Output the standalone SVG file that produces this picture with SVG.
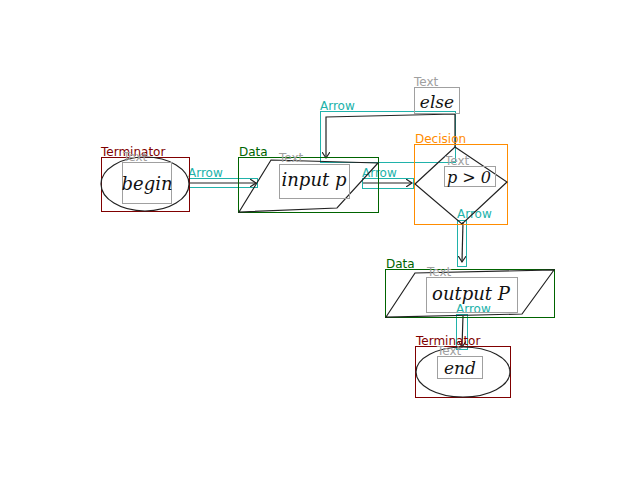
<svg xmlns="http://www.w3.org/2000/svg" width="640" height="480" viewBox="0 0 640 480">
<style>
.lbl{font-family:"DejaVu Sans",sans-serif;font-size:12px}
.term{fill:none;stroke:#800000;stroke-width:1}
.termL{fill:#800000}
.data{fill:none;stroke:#006400;stroke-width:1}
.dataL{fill:#006400}
.dec{fill:none;stroke:#ff8c00;stroke-width:1}
.decL{fill:#ff8c00}
.arr{fill:none;stroke:#20b2aa;stroke-width:1}
.arrL{fill:#20b2aa}
.tx{fill:none;stroke:#a0a0a0;stroke-width:1}
.txL{fill:#a0a0a0}
.ink{fill:none;stroke:#222;stroke-width:1.2}
.hw{font-family:"DejaVu Serif",serif;font-style:italic;fill:#111;text-anchor:middle}
</style>
<defs>
<marker id="ah" markerWidth="8" markerHeight="8" refX="6" refY="4" orient="auto" markerUnits="userSpaceOnUse">
<path d="M0,0 L6,4 L0,8" fill="none" stroke="#222" stroke-width="1.2"/>
</marker>
</defs>
<rect width="640" height="480" fill="#fff"/>
<g id="connectors">
<g id="arrow1">
<rect class="arr" x="189.5" y="178.5" width="68" height="9"/>
<text class="lbl arrL" x="188" y="177">Arrow</text>
<path class="ink" d="M190,183 L256,183" marker-end="url(#ah)"/>
</g>
<g id="arrow2">
<rect class="arr" x="320.5" y="111.5" width="135" height="51"/>
<text class="lbl arrL" x="320" y="110">Arrow</text>
<path class="ink" d="M455,148 L455,114 L326,117 L326,158" marker-end="url(#ah)"/>
</g>
<g id="arrow3">
<rect class="arr" x="362.5" y="178.5" width="51" height="10"/>
<text class="lbl arrL" x="362" y="177">Arrow</text>
<path class="ink" d="M363,183 L412,183" marker-end="url(#ah)"/>
</g>
<g id="arrow4">
<rect class="arr" x="457.5" y="220.5" width="9" height="46"/>
<text class="lbl arrL" x="457" y="218">Arrow</text>
<path class="ink" d="M463,222 L462,262" marker-end="url(#ah)"/>
</g>
<g id="arrow5">
<rect class="arr" x="456.5" y="314.5" width="11" height="35"/>
<text class="lbl arrL" x="456" y="313">Arrow</text>
<path class="ink" d="M463,316 L462,347" marker-end="url(#ah)"/>
</g>
</g>
<g id="terminator1">
<rect class="term" x="101.5" y="157.5" width="88" height="54"/>
<text class="lbl termL" x="101" y="156">Terminator</text>
<ellipse class="ink" cx="145" cy="184" rx="44" ry="27"/>
<rect class="tx" x="122.5" y="162.5" width="49" height="41"/>
<text class="lbl txL" x="123" y="161">Text</text>
<text class="hw" x="147" y="190" font-size="18">begin</text>
</g>
<g id="data1">
<rect class="data" x="238.5" y="157.5" width="140" height="55"/>
<text class="lbl dataL" x="239" y="156">Data</text>
<path class="ink" d="M271,160 L378,163 L337,208 L239,212 Z"/>
<rect class="tx" x="279.5" y="164.5" width="70" height="34"/>
<text class="lbl txL" x="279" y="162">Text</text>
<text class="hw" x="314" y="186" font-size="18">input p</text>
</g>
<g id="else">
<rect class="tx" x="414.5" y="87.5" width="45" height="26"/>
<text class="lbl txL" x="414" y="86">Text</text>
<text class="hw" x="437" y="108" font-size="17">else</text>
</g>
<g id="decision">
<rect class="dec" x="414.5" y="144.5" width="93" height="80"/>
<text class="lbl decL" x="415" y="143">Decision</text>
<path class="ink" d="M415,184 L455,147 L507,182 L462,224 Z"/>
<rect class="tx" x="444.5" y="166.5" width="51" height="20"/>
<text class="lbl txL" x="445" y="165">Text</text>
<text class="hw" x="469" y="183" font-size="16">p &gt; 0</text>
</g>
<g id="data2">
<rect class="data" x="385.5" y="269.5" width="169" height="48"/>
<text class="lbl dataL" x="386" y="268">Data</text>
<path class="ink" d="M415,273 L554,270 L522,314 L386,317 Z"/>
<rect class="tx" x="426.5" y="277.5" width="91" height="35"/>
<text class="lbl txL" x="427" y="276">Text</text>
<text class="hw" x="471" y="300" font-size="18">output P</text>
</g>
<g id="terminator2">
<rect class="term" x="415.5" y="346.5" width="95" height="51"/>
<text class="lbl termL" x="416" y="345">Terminator</text>
<ellipse class="ink" cx="463" cy="372" rx="47" ry="25"/>
<rect class="tx" x="437.5" y="356.5" width="45" height="22"/>
<text class="lbl txL" x="437" y="355">Text</text>
<text class="hw" x="460" y="374" font-size="17">end</text>
</g>
</svg>
